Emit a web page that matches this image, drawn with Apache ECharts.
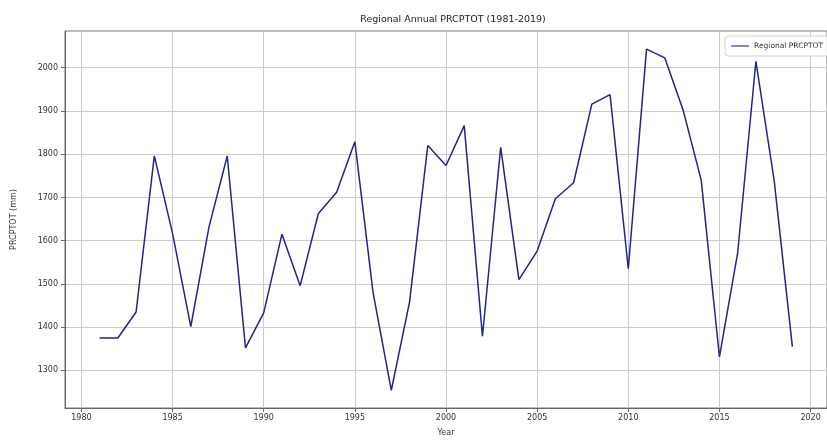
<!DOCTYPE html>
<html>
<head>
<meta charset="utf-8">
<script src="https://cdn.jsdelivr.net/npm/echarts@6/dist/echarts.min.js"></script>
<style>
html,body{margin:0;padding:0;background:#fff;}
#chart{width:827px;height:442px;}
</style>
</head>
<body>
<div id="chart"></div>
<script>
const years = [1981,1982,1983,1984,1985,1986,1987,1988,1989,1990,1991,1992,1993,1994,1995,1996,1997,1998,1999,2000,2001,2002,2003,2004,2005,2006,2007,2008,2009,2010,2011,2012,2013,2014,2015,2016,2017,2018,2019];
const prcptot = [1375,1375,1435,1796,1617,1401,1632,1796,1352,1433,1615,1496,1663,1712,1829,1480,1254,1458,1820,1774,1866,1379,1816,1510,1576,1697,1734,1916,1938,1535,2043,2023,1903,1740,1331,1572,2015,1740,1355];
const xTicks = [1980,1985,1990,1995,2000,2005,2010,2015,2020];
const yTicks = [1300,1400,1500,1600,1700,1800,1900,2000];

const chart = echarts.init(document.getElementById('chart'));
const font = 'DejaVu Sans';
chart.setOption({
  animation: false,
  backgroundColor: '#fff',
  title: {
    text: 'Regional Annual PRCPTOT (1981-2019)',
    left: 448, top: 10, textAlign: 'center',
    textStyle: {fontFamily: font, fontSize: 9.5, fontWeight: 'normal', color: '#222'}
  },
  legend: {
    right: -6, top: 36,
    itemWidth: 18, itemHeight: 10, itemGap: 6,
    padding: [6, 10, 6, 6],
    borderColor: '#d0d0d0', borderWidth: 1, borderRadius: 3,
    backgroundColor: 'rgba(255,255,255,0.85)',
    textStyle: {fontFamily: font, fontSize: 7.5, color: '#333'},
    data: [{name: 'Regional PRCPTOT', icon: 'path://M0,4.4 L20,4.4 L20,5.6 L0,5.6 Z'}]
  },
  grid: {left: 65, top: 31, width: 765, height: 379, containLabel: false,
    show: true, borderColor: '#777', borderWidth: 1, backgroundColor: 'transparent'},
  xAxis: {
    type: 'value', min: 1979.1, max: 2020.9,
    name: 'Year', nameLocation: 'middle', nameGap: 21,
    nameTextStyle: {fontFamily: font, fontSize: 8, color: '#333'},
    axisLine: {show: true, onZero: false, lineStyle: {color: '#666', width: 1}},
    axisTick: {show: true, inside: false, length: 4, customValues: xTicks, lineStyle: {color: '#666'}},
    axisLabel: {customValues: xTicks, margin: 6, fontFamily: font, fontSize: 8, color: '#333',
      formatter: v => String(v)},
    splitLine: {show: true, lineStyle: {color: '#cccccc', width: 1}}
  },
  yAxis: {
    type: 'value', min: 1213, max: 2085,
    name: 'PRCPTOT (mm)', nameLocation: 'middle', nameGap: 47, nameRotate: 90,
    nameTextStyle: {fontFamily: font, fontSize: 8, color: '#333'},
    axisLine: {show: true, onZero: false, lineStyle: {color: '#666', width: 1}},
    axisTick: {show: true, inside: false, length: 4, customValues: yTicks, lineStyle: {color: '#666'}},
    axisLabel: {customValues: yTicks, margin: 7, fontFamily: font, fontSize: 8, color: '#333',
      formatter: v => String(v)},
    splitLine: {show: true, lineStyle: {color: '#cccccc', width: 1}}
  },
  series: [{
    name: 'Regional PRCPTOT',
    type: 'line',
    data: years.map((y, i) => [y, prcptot[i]]),
    showSymbol: false, symbol: 'none',
    lineStyle: {color: '#23238c', width: 1.5},
    itemStyle: {color: '#23238c'}
  }]
});
</script>
</body>
</html>
